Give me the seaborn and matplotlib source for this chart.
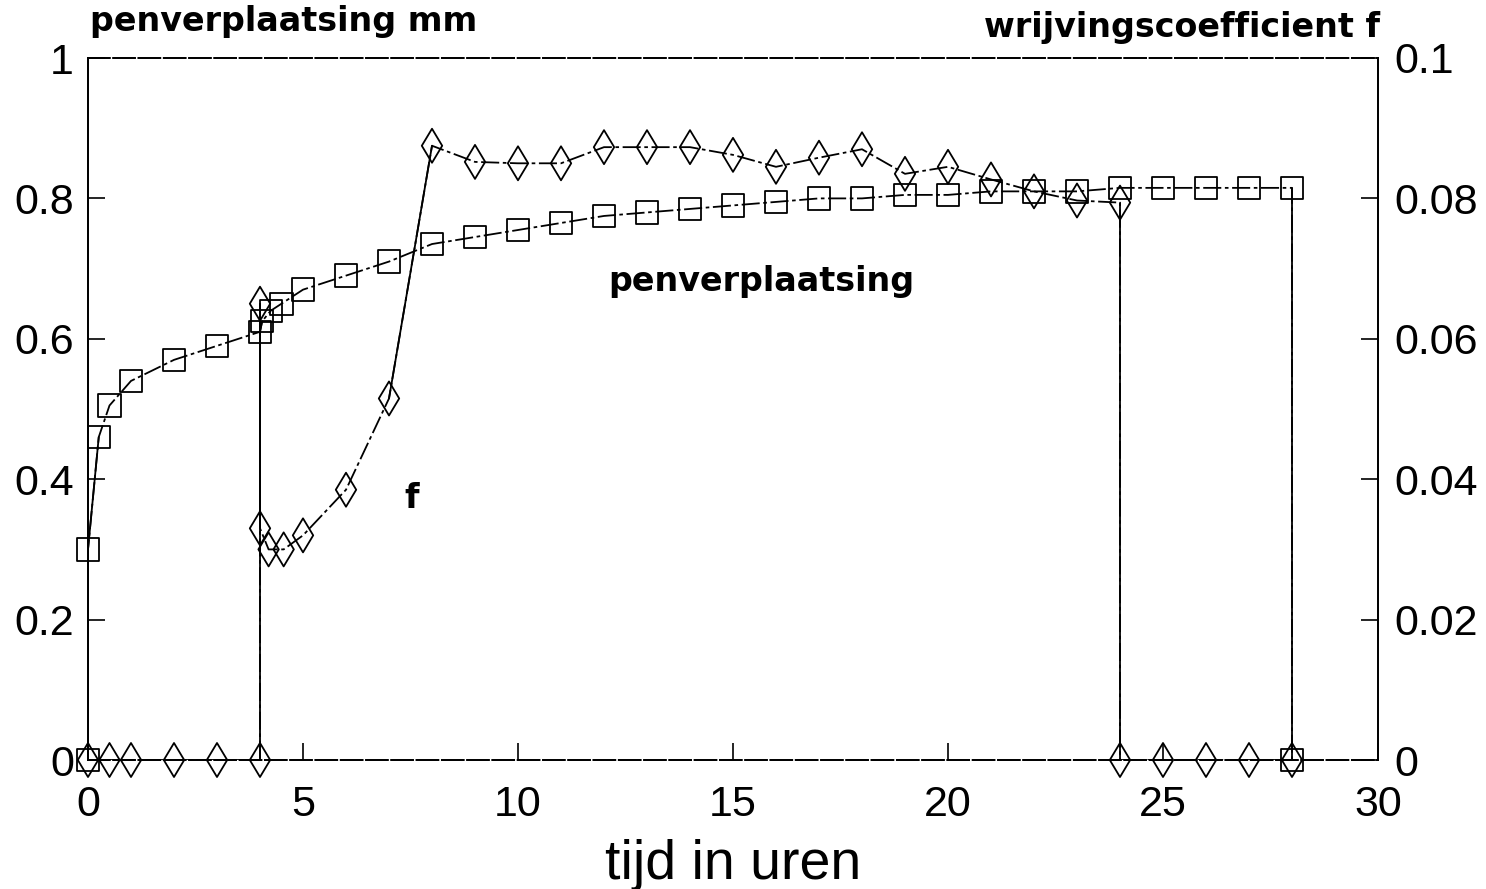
import numpy as np
import pandas as pd
import matplotlib
matplotlib.use("Agg")
import matplotlib.pyplot as plt
import seaborn as sns

# time in hours and pin displacement (mm)
t_pen = [0, 0, 0.25, 0.5, 1, 2, 3, 4, 4.05, 4.25, 4.5, 5, 6, 7, 8, 9, 10, 11, 12,
         13, 14, 15, 16, 17, 18, 19, 20, 21, 22, 23, 24, 25, 26, 27, 28, 28]
pen = [0, 0.30, 0.46, 0.505, 0.54, 0.57, 0.59, 0.61, 0.625, 0.64, 0.65, 0.67, 0.69,
       0.71, 0.735, 0.745, 0.755, 0.765, 0.775, 0.78, 0.785, 0.79, 0.795, 0.80, 0.80,
       0.805, 0.805, 0.81, 0.81, 0.81, 0.815, 0.815, 0.815, 0.815, 0.815, 0]

# time in hours and friction coefficient f
t_f = [0, 0.5, 1, 2, 3, 4, 4, 4, 4.2, 4.55, 5, 6, 7, 8, 9, 10, 11, 12, 13, 14, 15,
       16, 17, 18, 19, 20, 21, 22, 23, 24, 24, 25, 26, 27, 28]
f = [0, 0, 0, 0, 0, 0, 0.065, 0.033, 0.030, 0.030, 0.032, 0.0385, 0.0515, 0.0875,
     0.0852, 0.085, 0.085, 0.0873, 0.0873, 0.0873, 0.0862, 0.0845, 0.0858, 0.087,
     0.0835, 0.0845, 0.0827, 0.081, 0.0797, 0.0794, 0, 0, 0, 0, 0]

x_ticks = [0, 5, 10, 15, 20, 25, 30]
left_ticks = [0, 0.2, 0.4, 0.6, 0.8, 1]
left_labels = ["0", "0.2", "0.4", "0.6", "0.8", "1"]
right_ticks = [0, 0.02, 0.04, 0.06, 0.08, 0.1]
right_labels = ["0", "0.02", "0.04", "0.06", "0.08", "0.1"]

sns.set_theme(style="white")
plt.rcParams["font.family"] = ["Liberation Sans", "DejaVu Sans"]
plt.rcParams["text.color"] = "black"

W, H = 1486, 889
fig = plt.figure(figsize=(W / 100, H / 100), dpi=100)
x0, x1, y0, y1 = 88, 1378, 760, 58
ax = fig.add_axes([x0 / W, 1 - y0 / H, (x1 - x0) / W, (y0 - y1) / H])
ax2 = ax.twinx()

XMAX = 30
DASH = (0, (10, 2, 2, 2))
LW = 1.3


def draw_series(axis, xs, ys, ymax, marker, ms):
    df = pd.DataFrame({"x": xs, "y": ys})
    # dash-dot connecting line through all points, in the given order
    sns.lineplot(data=df, x="x", y="y", ax=axis, sort=False, estimator=None,
                 color="black", lw=LW, linestyle=DASH, legend=False)
    # steep segments (jumps) are drawn solid
    xa = np.asarray(xs) / XMAX
    ya = np.asarray(ys) / ymax
    for i in range(len(xs) - 1):
        dx = abs(xa[i + 1] - xa[i])
        dy = abs(ya[i + 1] - ya[i])
        if dy > 6 * dx:
            seg = df.iloc[i:i + 2]
            sns.lineplot(data=seg, x="x", y="y", ax=axis, sort=False,
                         estimator=None, color="black", lw=LW, legend=False)
    sns.scatterplot(data=df, x="x", y="y", ax=axis, marker=marker, s=ms,
                    facecolor="none", edgecolor="black", linewidth=1.3,
                    legend=False, zorder=5, clip_on=False)


draw_series(ax, t_pen, pen, 1.0, "s", 260)
draw_series(ax2, t_f, f, 0.1, "d", 300)

ax.set_xlim(0, XMAX)
ax.set_ylim(0, 1)
ax2.set_ylim(0, 0.1)
ax.set_ylabel("")
ax2.set_ylabel("")

ax.set_xticks(x_ticks)
ax.set_xticklabels([str(v) for v in x_ticks])
ax.set_yticks(left_ticks)
ax.set_yticklabels(left_labels)
ax2.set_yticks(right_ticks)
ax2.set_yticklabels(right_labels)

tick_font = dict(labelsize=31, colors="black")
ax.tick_params(axis="x", direction="in", length=12, width=1.2, pad=18,
               bottom=True, top=False, **tick_font)
ax.tick_params(axis="y", direction="in", length=12, width=1.2, pad=10,
               left=True, right=False, **tick_font)
ax2.tick_params(axis="y", direction="in", length=12, width=1.2, pad=12,
                right=True, left=False, **tick_font)

for a in (ax, ax2):
    for side in ("left", "right", "top", "bottom"):
        a.spines[side].set_color("black")
        a.spines[side].set_linewidth(1.3)
    a.spines["top"].set_linestyle((0, (12, 2)))
    a.spines["bottom"].set_linestyle((0, (12, 2)))
ax.patch.set_visible(False)

ax.set_xlabel("tijd in uren", fontsize=40, labelpad=10, color="black")

title_font = dict(family=["DejaVu Sans"], fontsize=24, fontweight="bold",
                  color="black")
fig.text(90 / W, 1 - 22 / H, "penverplaatsing mm", ha="left", va="center",
         **title_font)
fig.text(1380 / W, 1 - 27 / H, "wrijvingscoefficient f", ha="right",
         va="center", **title_font)
ax.text(15.67, 0.682, "penverplaatsing", ha="center", va="center",
        **title_font)
ax.text(7.53, 0.372, "f", ha="center", va="center", **title_font)

fig.savefig("out.png", dpi=100, facecolor="white")
